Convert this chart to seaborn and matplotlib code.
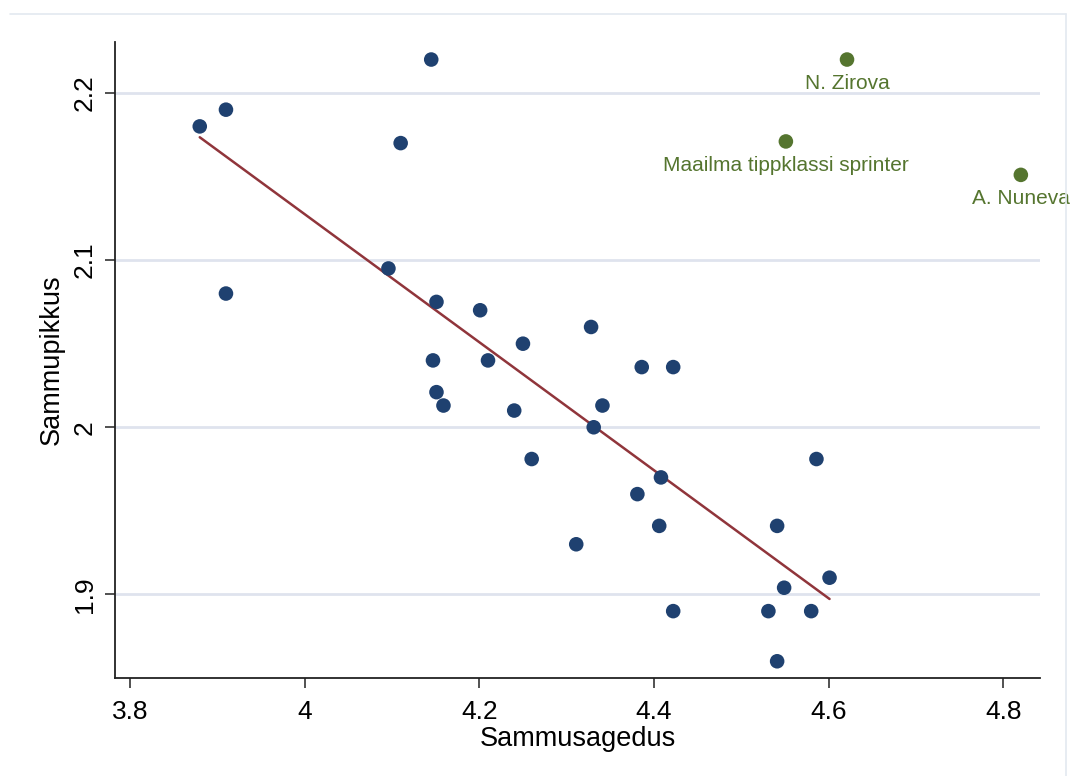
import numpy as np
import pandas as pd
import seaborn as sns
import matplotlib.pyplot as plt
from matplotlib.lines import Line2D

# Andmed (sammusagedus vs sammupikkus)
sagedus = [3.88, 3.91, 3.91, 4.145, 4.11, 4.096, 4.151, 4.201, 4.147, 4.21,
           4.25, 4.328, 4.151, 4.159, 4.24, 4.386, 4.422, 4.341, 4.331, 4.26,
           4.408, 4.381, 4.406, 4.311, 4.541, 4.586, 4.601, 4.549, 4.422, 4.531,
           4.58, 4.541]
pikkus = [2.18, 2.19, 2.08, 2.22, 2.17, 2.095, 2.075, 2.07, 2.04, 2.04,
          2.05, 2.06, 2.021, 2.013, 2.01, 2.036, 2.036, 2.013, 2.0, 1.981,
          1.97, 1.96, 1.941, 1.93, 1.941, 1.981, 1.91, 1.904, 1.89, 1.89,
          1.89, 1.86]

tipp_nimed = ["N. Zirova", "Maailma tippklassi sprinter", "A. Nuneva"]
tipp_sagedus = [4.621, 4.551, 4.82]
tipp_pikkus = [2.22, 2.171, 2.151]

df = pd.DataFrame({"Sammusagedus": sagedus, "Sammupikkus": pikkus})
df_tipp = pd.DataFrame({"nimi": tipp_nimed, "Sammusagedus": tipp_sagedus, "Sammupikkus": tipp_pikkus})

sns.set_style("white")
plt.rcParams["font.family"] = ["Liberation Sans", "DejaVu Sans"]
plt.rcParams["text.color"] = "black"
plt.rcParams["axes.labelcolor"] = "black"
plt.rcParams["xtick.color"] = "black"
plt.rcParams["ytick.color"] = "black"

navy = "#1f4170"
maroon = "#90353b"
green = "#55752f"

fig = plt.figure(figsize=(10.74, 7.76), dpi=100)
ax = fig.add_axes([0.1071, 0.1263, 0.8613, 0.8196])

# horisontaalsed ruudujooned
for yv in [1.9, 2.0, 2.1, 2.2]:
    ax.axhline(yv, color="#dfe3ee", lw=2, zorder=0)

sns.regplot(data=df, x="Sammusagedus", y="Sammupikkus", ci=None, scatter=False,
            color=maroon, line_kws={"lw": 1.8}, ax=ax)
sns.scatterplot(data=df, x="Sammusagedus", y="Sammupikkus", color=navy, s=110,
                edgecolor="none", ax=ax, zorder=3)
sns.scatterplot(data=df_tipp, x="Sammusagedus", y="Sammupikkus", color=green, s=110,
                edgecolor="none", ax=ax, zorder=3)

for _, r in df_tipp.iterrows():
    ax.annotate(r["nimi"], (r["Sammusagedus"], r["Sammupikkus"]), xytext=(0, -17),
                textcoords="offset points", ha="center", va="center",
                color=green, fontsize=15, annotation_clip=False)

ax.set_xlim(3.783, 4.842)
ax.set_ylim(1.85, 2.2305)
ax.set_xticks([3.8, 4.0, 4.2, 4.4, 4.6, 4.8])
ax.set_xticklabels(["3.8", "4", "4.2", "4.4", "4.6", "4.8"])
ax.set_yticks([1.9, 2.0, 2.1, 2.2])
ax.set_yticklabels(["1.9", "2", "2.1", "2.2"], rotation=90, va="center")
ax.tick_params(axis="both", direction="out", length=7, width=1.2, color="#333333",
               labelcolor="black", labelsize=19, left=True, bottom=True)
ax.tick_params(axis="x", pad=9)
ax.tick_params(axis="y", pad=6)

sns.despine(ax=ax)
for s in ["left", "bottom"]:
    ax.spines[s].set_color("#222222")
    ax.spines[s].set_linewidth(1.3)

ax.set_xlabel("Sammusagedus", fontsize=19.5, labelpad=1, color="black")
ax.set_ylabel("Sammupikkus", fontsize=19.5, labelpad=6, color="black")

# välimine raam
fig.add_artist(Line2D([10 / 1074, 1066 / 1074], [1 - 14 / 776, 1 - 14 / 776],
                      transform=fig.transFigure, color="#e3e9f0", lw=1.2))
fig.add_artist(Line2D([1066 / 1074, 1066 / 1074], [0, 1 - 14 / 776],
                      transform=fig.transFigure, color="#e3e9f0", lw=1.2))

plt.savefig("out.png", dpi=100)
